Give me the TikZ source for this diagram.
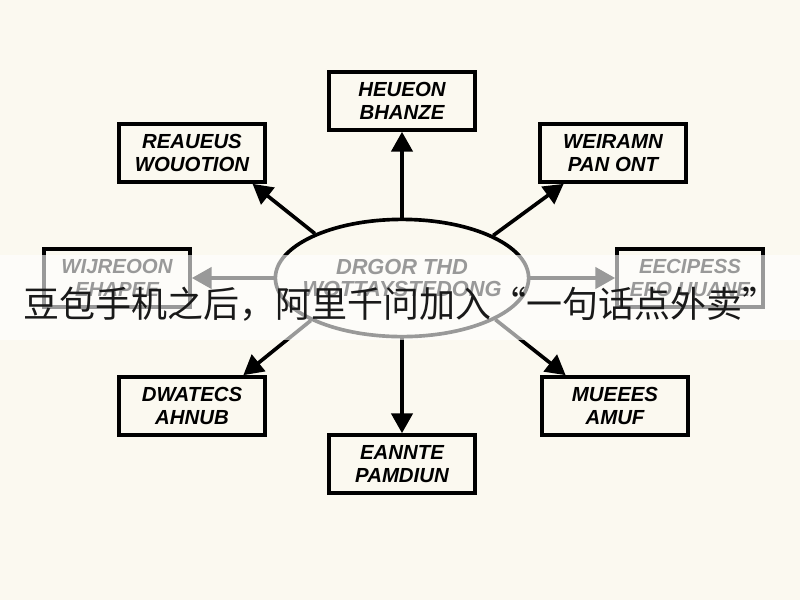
\documentclass[tikz,border=0pt]{standalone}
\usepackage{fontspec}
\setmainfont{Liberation Sans}
\newfontfamily\cjk{Noto Sans CJK SC}
\usetikzlibrary{arrows.meta,shapes.geometric}
\definecolor{paper}{RGB}{251,249,240}

\begin{document}
\begin{tikzpicture}[x=0.025cm, y=-0.025cm,
    box/.style={draw, line width=2.6pt, minimum width=3.65cm, minimum height=1.45cm,
        inner sep=0pt, align=center, font=\bfseries\itshape\fontsize{14.5}{16.5}\selectfont},
    hub/.style={ellipse, draw, line width=2.6pt, minimum width=6.33cm, minimum height=2.93cm},
    hubtext/.style={align=center, inner sep=0pt, font=\bfseries\itshape\fontsize{15.5}{16}\selectfont},
    link/.style={line width=2.6pt, -{Triangle[length=14pt, width=15pt]}}]
    % Paper
    \fill[paper] (0,0) rectangle (800,600);
    \useasboundingbox (0,0) rectangle (800,600);

    % Center ellipse
    \node[hub] (hub) at (402,278) {};
    \node[hubtext] (hubt) at (hub) {DRGOR THD\\WOTTAYSTEDONG};

    % Boxes around
    \node[box] (top) at (402,101) {HEUEON\\BHANZE};
    \node[box] (tl) at (192,153) {REAUEUS\\WOUOTION};
    \node[box] (tr) at (613,153) {WEIRAMN\\PAN ONT};
    \node[box] (lft) at (117,278) {WIJREOON\\EHAPEE};
    \node[box] (rgt) at (690,278) {EECIPESS\\EFO UUANE};
    \node[box] (bl) at (192,406) {DWATECS\\AHNUB};
    \node[box] (br) at (615,406) {MUEEES\\AMUF};
    \node[box] (bot) at (402,464) {EANNTE\\PAMDIUN};

    % Arrows out of the ellipse
    \draw[link] (hub.north) -- (top.south);
    \draw[link] (hub.153) -- (tl.-27);
    \draw[link] (hub.25) -- (tr.-148);
    \draw[link] (hub.west) -- (lft.east);
    \draw[link] (hub.east) -- (rgt.west);
    \draw[link] (hub.205) -- (bl.31);
    \draw[link] (hub.336) -- (br.148);
    \draw[link] (hub.south) -- (bot.north);

    % Caption band
    \fill[white, opacity=0.6] (0,255) rectangle (800,340);
    \node[font=\cjk\fontsize{25.6}{30}\selectfont, inner sep=0pt, text=black!90] (cap) at (401,304)
        {豆包手机之后，阿里千问加入“一句话点外卖”};
\end{tikzpicture}
\end{document}
